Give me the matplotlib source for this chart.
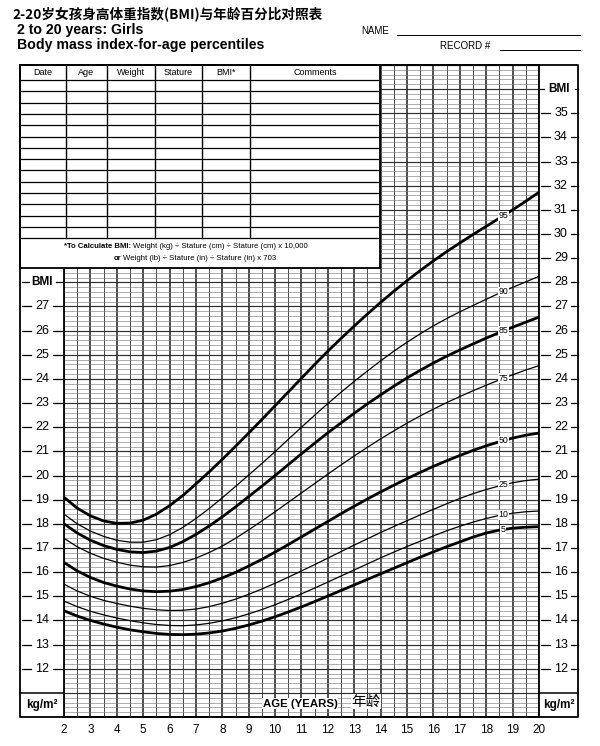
import numpy as np
import matplotlib
matplotlib.use("Agg")
import matplotlib.pyplot as plt
from matplotlib.transforms import blended_transform_factory

plt.rcParams['font.family'] = ['Liberation Sans', 'DejaVu Sans']

# ages (years), half-year steps
ages = [2, 2.5, 3, 3.5, 4, 4.5, 5, 5.5, 6, 6.5, 7, 7.5, 8, 8.5, 9, 9.5, 10, 10.5,
        11, 11.5, 12, 12.5, 13, 13.5, 14, 14.5, 15, 15.5, 16, 16.5, 17, 17.5,
        18, 18.5, 19, 19.5, 20]

# BMI percentiles
p95 = [19.10, 18.65, 18.33, 18.12, 18.02, 18.03, 18.15, 18.40, 18.75, 19.17, 19.65,
       20.15, 20.67, 21.21, 21.76, 22.32, 22.89, 23.46, 24.03, 24.60, 25.15, 25.68,
       26.19, 26.69, 27.17, 27.63, 28.07, 28.49, 28.89, 29.27, 29.63, 29.98, 30.32,
       30.66, 31.00, 31.36, 31.73]
p90 = [18.40, 18.00, 17.70, 17.48, 17.32, 17.24, 17.24, 17.34, 17.55, 17.85, 18.22,
       18.63, 19.08, 19.55, 20.02, 20.50, 20.99, 21.50, 22.00, 22.50, 22.98, 23.45,
       23.90, 24.33, 24.75, 25.15, 25.52, 25.87, 26.20, 26.50, 26.78, 27.04, 27.30,
       27.55, 27.79, 28.02, 28.25]
p85 = [18.00, 17.62, 17.32, 17.10, 16.94, 16.84, 16.81, 16.87, 17.02, 17.26, 17.56,
       17.91, 18.29, 18.70, 19.13, 19.56, 20.00, 20.45, 20.90, 21.34, 21.77, 22.18,
       22.58, 22.97, 23.34, 23.70, 24.04, 24.36, 24.66, 24.94, 25.20, 25.45, 25.69,
       25.92, 26.14, 26.35, 26.56]
p75 = [17.40, 17.05, 16.78, 16.57, 16.41, 16.29, 16.22, 16.21, 16.27, 16.40, 16.58,
       16.81, 17.08, 17.40, 17.75, 18.12, 18.50, 18.89, 19.28, 19.67, 20.06, 20.44,
       20.81, 21.17, 21.52, 21.85, 22.17, 22.47, 22.75, 23.02, 23.27, 23.51, 23.74,
       23.96, 24.17, 24.37, 24.55]
p50 = [16.40, 16.05, 15.78, 15.57, 15.42, 15.30, 15.22, 15.19, 15.21, 15.28, 15.40,
       15.56, 15.76, 15.99, 16.25, 16.53, 16.83, 17.14, 17.46, 17.78, 18.10, 18.42,
       18.73, 19.03, 19.32, 19.60, 19.87, 20.13, 20.38, 20.61, 20.83, 21.04, 21.23,
       21.40, 21.55, 21.67, 21.76]
p25 = [15.50, 15.22, 15.00, 14.83, 14.70, 14.59, 14.50, 14.44, 14.41, 14.42, 14.47,
       14.57, 14.71, 14.88, 15.08, 15.30, 15.54, 15.79, 16.05, 16.31, 16.58, 16.85,
       17.12, 17.38, 17.64, 17.89, 18.13, 18.37, 18.60, 18.83, 19.05, 19.25, 19.42,
       19.57, 19.70, 19.79, 19.85]
p10 = [14.80, 14.57, 14.38, 14.23, 14.10, 13.99, 13.90, 13.83, 13.79, 13.78, 13.81,
       13.88, 13.98, 14.11, 14.27, 14.45, 14.65, 14.87, 15.10, 15.34, 15.59, 15.84,
       16.09, 16.34, 16.59, 16.83, 17.06, 17.28, 17.50, 17.71, 17.90, 18.07, 18.22,
       18.35, 18.44, 18.50, 18.53]
p5 = [14.40, 14.18, 14.00, 13.85, 13.72, 13.61, 13.53, 13.46, 13.42, 13.41, 13.43,
      13.48, 13.56, 13.67, 13.81, 13.97, 14.15, 14.35, 14.56, 14.78, 15.01, 15.24,
      15.47, 15.70, 15.93, 16.16, 16.39, 16.62, 16.84, 17.05, 17.25, 17.45, 17.62,
      17.74, 17.82, 17.86, 17.88]

percentiles = ["95", "90", "85", "75", "50", "25", "10", "5"]
curves = [p95, p90, p85, p75, p50, p25, p10, p5]
heavy = ["95", "85", "50", "5"]

table_cols = ["Date", "Age", "Weight", "Stature", "BMI*", "Comments"]
left_ticks = list(range(12, 28))
right_ticks = list(range(12, 36))

W, H = 600, 746
fig = plt.figure(figsize=(W / 100, H / 100), dpi=100)
fig.patch.set_facecolor("white")

# grid area in pixels
gx0, gx1, gy0, gy1 = 64, 539, 65, 717
ax = fig.add_axes([gx0 / W, 1 - gy1 / H, (gx1 - gx0) / W, (gy1 - gy0) / H])
ax.set_xlim(2, 20)
ax.set_ylim(10, 37)
ax.set_xticks(range(2, 21))
ax.set_xticks(np.arange(2, 20.01, 0.5), minor=True)
ax.set_yticks(range(10, 38))
ax.set_yticks(np.arange(10, 37.01, 0.2), minor=True)
ax.grid(which="major", axis="x", color="#1a1a1a", lw=1.1)
ax.grid(which="minor", axis="x", color="#3c3c3c", lw=0.65)
ax.grid(which="major", axis="y", color="#2e2e2e", lw=0.85)
ax.grid(which="minor", axis="y", color="#808080", lw=0.45)
ax.set_axisbelow(True)
ax.tick_params(axis="y", which="both", length=0, labelleft=False)
ax.tick_params(axis="x", which="both", length=0, labelsize=8.5, pad=5)
for s in ax.spines.values():
    s.set_linewidth(1.3)

for name, vals in zip(percentiles, curves):
    ax.plot(ages, vals, color="black", lw=2.0 if name in heavy else 0.9,
            solid_joinstyle="round", solid_capstyle="butt", zorder=3)
    ax.text(18.65, np.interp(18.65, ages, vals), name, fontsize=6.3,
            ha="center", va="center", zorder=4,
            bbox=dict(fc="white", ec="none", pad=0.3))

def fx(px):
    return (px - gx0) / (gx1 - gx0)

bt = blended_transform_factory(ax.transAxes, ax.transData)

def side_label(val, text, cx, d1, d2, bold=False):
    ax.text(fx(cx), val, text, transform=bt, ha="center", va="center",
            fontsize=8.5 if bold else 9, fontweight="bold" if bold else "normal",
            clip_on=False)
    for a, b in (d1, d2):
        ax.plot([fx(a), fx(b)], [val, val], transform=bt, color="black",
                lw=0.9, clip_on=False)

for v in left_ticks:
    side_label(v, str(v), 42, (22, 31), (53, 63))
side_label(28, "BMI", 42, (22, 29), (56, 63), bold=True)
for v in right_ticks:
    side_label(v, str(v), 561, (541, 550), (571, 578))
side_label(36, "BMI", 559, (540, 544), (575, 578), bold=True)

ax.text(fx(42), 10.5, "kg/m²", transform=bt, ha="center", va="center",
        fontsize=8.5, fontweight="bold", clip_on=False)
ax.text(fx(559), 10.5, "kg/m²", transform=bt, ha="center", va="center",
        fontsize=8.5, fontweight="bold", clip_on=False)

ax.text(10.95, 10.55, "AGE (YEARS)", ha="center", va="center", fontsize=8.2,
        fontweight="bold", zorder=5, bbox=dict(fc="white", ec="none", pad=0.5))
ax.text(13.45, 10.65, "年龄", ha="center", va="center", fontsize=10.5,
        family=["Noto Sans CJK SC", "DejaVu Sans"], zorder=5,
        bbox=dict(fc="white", ec="none", pad=0.2))

# record table (top-left)
tx0, tx1, ty0, ty1 = 20, 380, 65, 268
tab = fig.add_axes([tx0 / W, 1 - ty1 / H, (tx1 - tx0) / W, (ty1 - ty0) / H])
tab.set_zorder(5)
tab.set_facecolor("white")
tab.set_xlim(tx0, tx1)
tab.set_ylim(ty1, ty0)
tab.set_xticks([])
tab.set_yticks([])
for s in tab.spines.values():
    s.set_linewidth(1.3)
col_x = [20, 66, 107, 155, 202, 250, 380]
row_y = [65, 80] + [80 + 11.3 * k for k in range(1, 15)]
for x in col_x[1:-1]:
    tab.plot([x, x], [65, row_y[-1]], color="black", lw=1.0)
for y in row_y[1:]:
    tab.plot([tx0, tx1], [y, y], color="black", lw=0.9)
for name, a, b in zip(table_cols, col_x[:-1], col_x[1:]):
    tab.text((a + b) / 2, 72.5, name, ha="center", va="center", fontsize=6.5)
tab.text(131, 247, "*To Calculate BMI:", ha="right", va="center", fontsize=5.6,
         fontweight="bold")
tab.text(133, 247, "Weight (kg) ÷ Stature (cm) ÷ Stature (cm) x 10,000",
         ha="left", va="center", fontsize=5.6)
tab.text(121, 258.5, "or", ha="right", va="center", fontsize=5.6, fontweight="bold")
tab.text(123, 258.5, "Weight (lb) ÷ Stature (in) ÷ Stature (in) x 703",
         ha="left", va="center", fontsize=5.6)

# outer frame and side columns
over = fig.add_axes([0, 0, 1, 1])
over.set_zorder(6)
over.patch.set_alpha(0)
over.set_xlim(0, W)
over.set_ylim(H, 0)
over.axis("off")
over.plot([20, 578, 578, 20, 20], [65, 65, 717, 717, 65], color="black", lw=1.3)
over.plot([20, 64], [693, 693], color="black", lw=1.1)
over.plot([539, 578], [693, 693], color="black", lw=1.1)
over.plot([397, 580], [35, 35], color="black", lw=0.7)
over.plot([500, 580], [50, 50], color="black", lw=0.7)

fig.text(12 / W, 1 - 14 / H, "2-20岁女孩身高体重指数(BMI)与年龄百分比对照表",
         ha="left", va="center", fontsize=9.8, fontweight="bold",
         family=["Noto Sans CJK SC", "DejaVu Sans"])
fig.text(17 / W, 1 - 30 / H, "2 to 20 years: Girls", ha="left", va="center",
         fontsize=10.2, fontweight="bold")
fig.text(17 / W, 1 - 45 / H, "Body mass index-for-age percentiles", ha="left",
         va="center", fontsize=10.2, fontweight="bold")
fig.text(361 / W, 1 - 31 / H, "NAME", ha="left", va="center", fontsize=7)
fig.text(440 / W, 1 - 46 / H, "RECORD #", ha="left", va="center", fontsize=7)

fig.savefig("out.png", dpi=100, facecolor="white")
